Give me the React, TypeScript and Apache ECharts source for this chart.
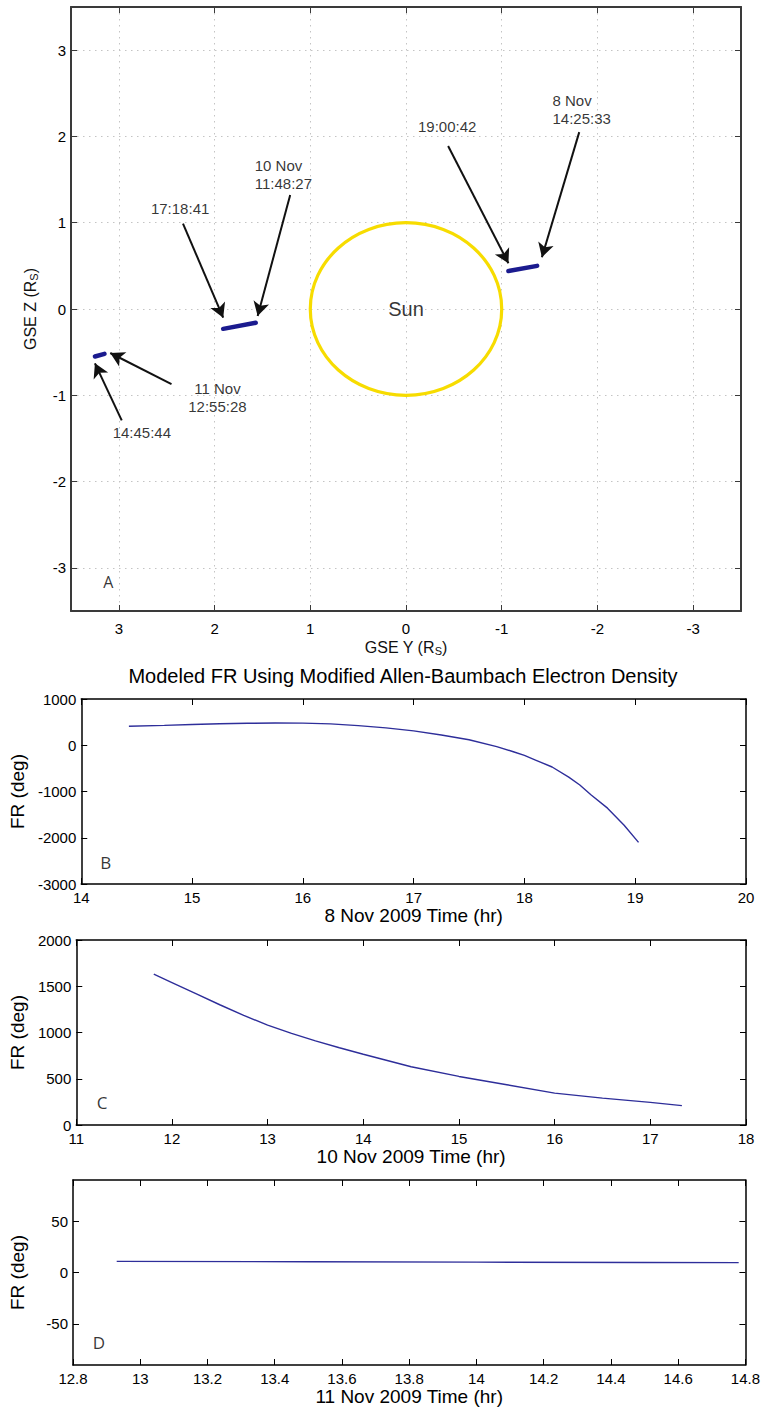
import React, { useEffect, useRef } from "react";
import * as echarts from "echarts";

const FONT = "'Liberation Sans', Arial, Helvetica, sans-serif";
const LETTER_FONT = "'Open Sans', 'Liberation Sans', sans-serif";

// ---------- Panel A : GSE Y / Z positions ----------
const gseTicks = [-3, -2, -1, 0, 1, 2, 3];
const sunCircle = [[0, 0, 1]]; // centre Y, centre Z, radius (Rs)
const track8Nov = [[-1.07, 0.44], [-1.37, 0.5]];
const track10Nov = [[1.91, -0.23], [1.57, -0.16]];
const track11Nov = [[3.25, -0.55], [3.15, -0.52]];
const annotationTexts = ["19:00:42", "8 Nov\n14:25:33", "17:18:41", "10 Nov\n11:48:27", "11 Nov\n12:55:28", "14:45:44"];
const annotationAnchors = [[-0.43, 2.12], [-1.53, 2.31], [2.36, 1.16], [1.58, 1.56], [1.97, -1.03], [2.76, -1.43]];
const arrowTails = [[-0.44, 1.89], [-1.81, 2.05], [2.33, 0.99], [1.21, 1.32], [2.45, -0.87], [2.97, -1.29]];
const arrowHeads = [[-1.07, 0.53], [-1.42, 0.6], [1.91, -0.1], [1.55, -0.08], [3.09, -0.51], [3.25, -0.63]];

// ---------- Panel B : 8 Nov 2009 ----------
const timeB = [14.43, 14.75, 15.0, 15.25, 15.5, 15.75, 16.0, 16.25, 16.5, 16.75, 17.0, 17.25, 17.5, 17.75, 17.9, 18.0, 18.1, 18.25, 18.4, 18.5, 18.6, 18.75, 18.9, 19.03];
const frB = [410, 430, 450, 465, 475, 480, 478, 462, 425, 375, 310, 222, 120, -30, -140, -220, -320, -470, -690, -860, -1070, -1360, -1730, -2100];

// ---------- Panel C : 10 Nov 2009 ----------
const timeC = [11.81, 12.0, 12.25, 12.5, 12.75, 13.0, 13.25, 13.5, 13.75, 14.0, 14.5, 15.0, 15.5, 16.0, 16.5, 17.0, 17.33];
const frC = [1630, 1540, 1420, 1300, 1185, 1080, 990, 910, 835, 765, 630, 525, 435, 345, 290, 245, 210];

// ---------- Panel D : 11 Nov 2009 ----------
const timeD = [12.93, 13.5, 14.0, 14.5, 14.78];
const frD = [10.8, 10.5, 10.1, 9.8, 9.6];
const dTicks = [-50, 0, 50];

const TITLE = "Modeled FR Using Modified Allen-Baumbach Electron Density";

function pairs(xs: number[], ys: number[]) {
  return xs.map((x, i) => [x, ys[i]]);
}

const plain = (v: number) => String(Math.round(v * 1000) / 1000);

function buildOption() {
  const grids = [
    { left: 71, top: 7, width: 670, height: 604 },
    { left: 71, top: 699, width: 675, height: 185 },
    { left: 71, top: 940, width: 675, height: 185 },
    { left: 71, top: 1180, width: 675, height: 185 },
  ];

  const darkA = "#3a3a3a";
  const gridLine = { show: true, lineStyle: { color: "#c4c4c4", width: 1, type: [1.5, 4.5] as any } };
  const lblA = { color: "#000", fontSize: 15, fontFamily: FONT, formatter: plain };
  const lbl = { color: "#000", fontSize: 15, fontFamily: FONT, formatter: plain };
  const nameStyle = { color: "#000", fontSize: 19, fontWeight: "normal", fontFamily: FONT };
  const subRich = {
    s: { fontSize: 11, fontFamily: FONT, color: "#111", verticalAlign: "bottom", padding: [6, 0, 0, 0] },
  };

  const mkX = (gi: number, pos: "bottom" | "top", o: any, color: string, width: number, labels: any, extra: any = {}) => ({
    type: "value",
    gridIndex: gi,
    position: pos,
    min: o.min,
    max: o.max,
    interval: o.interval,
    inverse: o.inverse,
    axisLine: { show: true, onZero: false, lineStyle: { color, width } },
    axisTick: { show: true, inside: true, length: 6, lineStyle: { color, width: 1 }, customValues: o.ticks },
    axisLabel: pos === "bottom" ? { show: true, margin: o.margin ?? 6, ...labels, customValues: o.ticks } : { show: false },
    splitLine: pos === "bottom" && o.grid ? gridLine : { show: false },
    ...extra,
  });
  const mkY = (gi: number, pos: "left" | "right", o: any, color: string, width: number, labels: any, extra: any = {}) => ({
    type: "value",
    gridIndex: gi,
    position: pos,
    min: o.min,
    max: o.max,
    interval: o.interval,
    axisLine: { show: true, onZero: false, lineStyle: { color, width } },
    axisTick: { show: true, inside: true, length: 6, lineStyle: { color, width: 1 }, customValues: o.ticks },
    axisLabel: pos === "left" ? { show: true, margin: 5, ...labels, customValues: o.ticks } : { show: false },
    splitLine: pos === "left" && o.grid ? gridLine : { show: false },
    ...extra,
  });

  const axA_x = { min: -3.5, max: 3.5, inverse: true, ticks: gseTicks, grid: true, margin: 10 };
  const axA_y = { min: -3.5, max: 3.5, ticks: gseTicks, grid: true };
  const axB_x = { min: 14, max: 20, interval: 1 };
  const axB_y = { min: -3000, max: 1000, interval: 1000 };
  const axC_x = { min: 11, max: 18, interval: 1 };
  const axC_y = { min: 0, max: 2000, interval: 500 };
  const axD_x = { min: 12.8, max: 14.8, interval: 0.2 };
  const axD_y = { min: -90, max: 90, ticks: dTicks };

  const xName = (n: string) => ({
    name: n,
    nameLocation: "middle",
    nameGap: 22,
    nameTextStyle: nameStyle,
  });
  const yName = {
    name: "FR (deg)",
    nameLocation: "middle",
    nameGap: 46,
    nameTextStyle: nameStyle,
  };
  const gseNameStyle = { color: "#111", fontSize: 16, fontWeight: "normal", fontFamily: FONT, rich: subRich };

  const xAxis = [
    mkX(0, "bottom", axA_x, darkA, 2, lblA, {
      name: "GSE Y (R{s|S})",
      nameLocation: "middle",
      nameGap: 28,
      nameTextStyle: gseNameStyle,
    }),
    mkX(0, "top", axA_x, darkA, 2, lblA),
    mkX(1, "bottom", axB_x, "#000", 1.5, lbl, xName("8 Nov 2009 Time (hr)")),
    mkX(1, "top", axB_x, "#000", 1.5, lbl),
    mkX(2, "bottom", axC_x, "#000", 1.5, lbl, xName("10 Nov 2009 Time (hr)")),
    mkX(2, "top", axC_x, "#000", 1.5, lbl),
    mkX(3, "bottom", axD_x, "#000", 1.5, lbl, xName("11 Nov 2009 Time (hr)")),
    mkX(3, "top", axD_x, "#000", 1.5, lbl),
  ];
  const yAxis = [
    mkY(0, "left", axA_y, darkA, 2, lblA, {
      name: "GSE Z (R{s|S})",
      nameLocation: "middle",
      nameGap: 32,
      nameTextStyle: gseNameStyle,
    }),
    mkY(0, "right", axA_y, darkA, 2, lblA),
    mkY(1, "left", axB_y, "#000", 1.5, lbl, yName),
    mkY(1, "right", axB_y, "#000", 1.5, lbl),
    mkY(2, "left", axC_y, "#000", 1.5, lbl, yName),
    mkY(2, "right", axC_y, "#000", 1.5, lbl),
    mkY(3, "left", axD_y, "#000", 1.5, lbl, yName),
    mkY(3, "right", axD_y, "#000", 1.5, lbl),
  ];

  const trackStyle = { color: "#1b1b8f", width: 4.5, cap: "round" };
  const track = (d: number[][]) => ({
    type: "line",
    xAxisIndex: 0,
    yAxisIndex: 0,
    data: d,
    showSymbol: false,
    silent: true,
    lineStyle: trackStyle,
    z: 4,
  });

  const leftAligned = new Set([1, 3]);
  const curveStyle = { color: "#2e2e9a", width: 1.4 };
  const curve = (gi: number, d: number[][]) => ({
    type: "line",
    xAxisIndex: gi * 2,
    yAxisIndex: gi * 2,
    data: d,
    showSymbol: false,
    silent: true,
    lineStyle: curveStyle,
  });
  const letter = (gi: number, txt: string, pos: number[]) => ({
    type: "scatter",
    xAxisIndex: gi * 2,
    yAxisIndex: gi * 2,
    symbolSize: 0,
    silent: true,
    label: { show: true, position: "inside", formatter: "{b}", color: "#000", fontSize: 17, fontFamily: LETTER_FONT },
    data: [{ name: txt, value: pos }],
  });

  const series: any[] = [
    {
      type: "custom",
      xAxisIndex: 0,
      yAxisIndex: 0,
      silent: true,
      clip: false,
      data: sunCircle,
      renderItem: (_p: any, api: any) => {
        const c = api.coord([api.value(0), api.value(1)]);
        const s = api.size([api.value(2), api.value(2)]);
        return {
          type: "ellipse",
          shape: { cx: c[0], cy: c[1], rx: s[0], ry: s[1] },
          style: { fill: "none", stroke: "#f7dc00", lineWidth: 3.2 },
        };
      },
    },
    track(track8Nov),
    track(track10Nov),
    track(track11Nov),
    {
      type: "scatter",
      xAxisIndex: 0,
      yAxisIndex: 0,
      symbolSize: 0,
      silent: true,
      label: {
        show: true,
        position: "inside",
        formatter: "{b}",
        color: "#000",
        fontSize: 15,
        lineHeight: 18,
        fontFamily: FONT,
      },
      data: [
        ...annotationTexts.map((t, i) => ({
          name: t,
          value: annotationAnchors[i],
          label: { align: leftAligned.has(i) ? "left" : "center" },
        })),
        { name: "Sun", value: [0, 0], label: { fontSize: 20 } },
        { name: "A", value: [3.11, -3.16], label: { fontSize: 16, fontFamily: LETTER_FONT } },
      ],
      markLine: {
        silent: true,
        symbol: ["none", "arrow"],
        symbolSize: [12, 14],
        lineStyle: { color: "#111", width: 2, type: "solid" },
        label: { show: false },
        emphasis: { disabled: true },
        data: arrowTails.map((t, i) => [{ coord: t }, { coord: arrowHeads[i] }]),
      },
    },
    curve(1, pairs(timeB, frB)),
    curve(2, pairs(timeC, frC)),
    curve(3, pairs(timeD, frD)),
    letter(1, "B", [14.22, -2530]),
    letter(2, "C", [11.27, 238]),
    letter(3, "D", [12.877, -68]),
  ];

  return {
    animation: false,
    backgroundColor: "#ffffff",
    grid: grids,
    xAxis,
    yAxis,
    series,
    graphic: [
      {
        type: "text",
        x: 403,
        y: 676,
        silent: true,
        style: {
          text: TITLE,
          fontSize: 20,
          fontFamily: FONT,
          fill: "#000",
          align: "center",
          verticalAlign: "middle",
        },
      },
    ],
  };
}

export default function App() {
  const ref = useRef<HTMLDivElement>(null);
  useEffect(() => {
    if (!ref.current) return;
    const chart = echarts.init(ref.current, null, { renderer: "svg" });
    chart.setOption(buildOption() as any);
    return () => chart.dispose();
  }, []);
  return (
    <div
      ref={ref}
      style={{ position: "absolute", left: 0, top: 0, width: 763, height: 1409, background: "#fff" }}
    />
  );
}
